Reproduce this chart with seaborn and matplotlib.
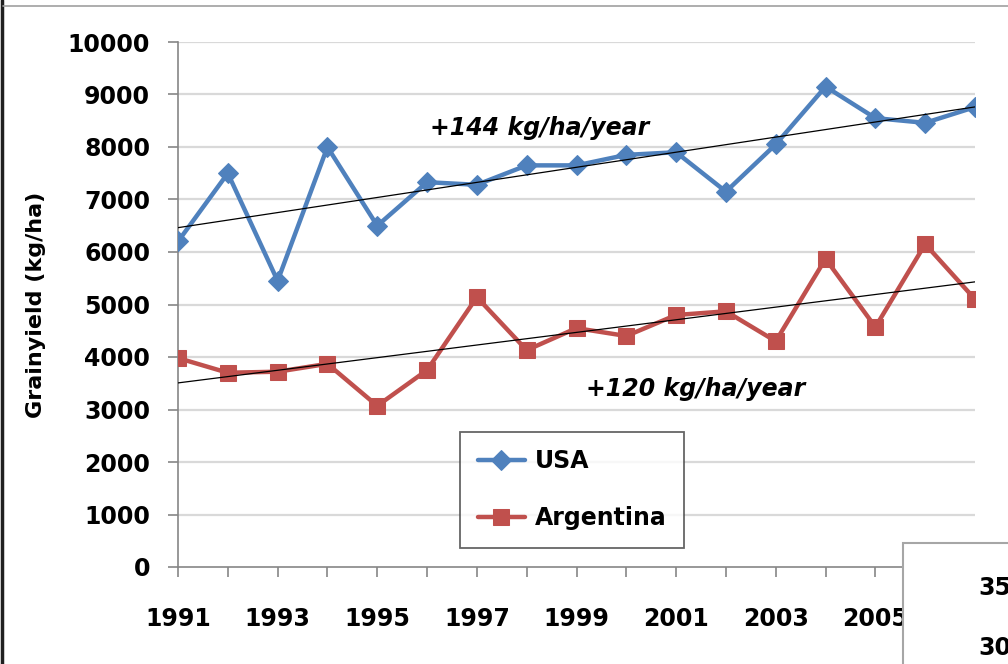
import numpy as np
import pandas as pd
import seaborn as sns
import matplotlib.pyplot as plt
from matplotlib.patches import Rectangle
from matplotlib.lines import Line2D

years = list(range(1991, 2008))
usa = [6200, 7500, 5450, 8000, 6500, 7330, 7280, 7650, 7650, 7850, 7900, 7150, 8050, 9150, 8550, 8460, 8760]
argentina = [3980, 3700, 3720, 3870, 3070, 3750, 5140, 4130, 4550, 4400, 4800, 4870, 4300, 5870, 4570, 6150, 5100]
y_ticks = list(range(0, 10001, 1000))
x_labels = [str(y) if y % 2 == 1 else '' for y in years]

blue = '#4F81BD'
red = '#C0504D'

sns.set_style('white')
plt.rcParams['font.family'] = ['DejaVu Sans']
plt.rcParams['font.weight'] = 'bold'
plt.rcParams['text.color'] = 'black'
plt.rcParams['axes.labelcolor'] = 'black'

fig = plt.figure(figsize=(10.08, 6.64), dpi=100)
ax = fig.add_axes([178 / 1008, 97 / 664, 797 / 1008, 525 / 664])

# gridlines first so the data sits on top
for v in y_ticks[1:]:
    ax.axhline(v, color='#D9D9D9', lw=1.6, zorder=0)

sns.lineplot(x=years, y=usa, ax=ax, color=blue, lw=3.2, marker='D', markersize=10,
             markeredgecolor=blue, label='USA', zorder=3)
sns.lineplot(x=years, y=argentina, ax=ax, color=red, lw=3.2, marker='s', markersize=12,
             markeredgecolor=red, label='Argentina', zorder=3)

# linear trends
yr = np.array(years)
for vals in (usa, argentina):
    k, b = np.polyfit(yr, vals, 1)
    ax.plot(yr, k * yr + b, color='black', lw=0.9, zorder=4)

ax.text(1996.05, 8360, '+144 kg/ha/year', fontsize=17, fontweight='bold', style='italic',
        va='center', ha='left', color='black')
ax.text(1999.2, 3390, '+120 kg/ha/year', fontsize=17, fontweight='bold', style='italic',
        va='center', ha='left', color='black')

ax.set_xlim(1991, 2006.95)
ax.set_ylim(0, 10000)
ax.set_xticks(years)
ax.set_xticklabels(x_labels)
ax.set_yticks(y_ticks)
ax.tick_params(axis='both', labelsize=17, colors='#868686', labelcolor='black')
ax.tick_params(axis='x', length=7, width=1.2, direction='out', pad=22, bottom=True)
ax.tick_params(axis='y', length=7, width=1.2, direction='out', pad=13, left=True)
for t in ax.get_xticklabels() + ax.get_yticklabels():
    t.set_fontweight('bold')

for s in ['top', 'right']:
    ax.spines[s].set_visible(False)
for s in ['left', 'bottom']:
    ax.spines[s].set_color('#868686')
    ax.spines[s].set_linewidth(1.2)

ax.set_ylabel('Grainyield (kg/ha)', fontsize=16, fontweight='bold', labelpad=16, color='black')
ax.set_xlabel('')

leg = ax.legend(loc='lower left', bbox_to_anchor=(0.354, 0.036), fontsize=17,
                frameon=True, fancybox=False, labelspacing=1.4, borderpad=0.75,
                handlelength=2.0, handletextpad=0.4, borderaxespad=0)
leg.get_frame().set_edgecolor('#404040')
leg.get_frame().set_linewidth(1.3)
for t in leg.get_texts():
    t.set_fontweight('bold')
    t.set_color('black')

# chart frame edges from the original slide
fig.add_artist(Line2D([1.5 / 1008, 1.5 / 1008], [0, 1], color='#202020', lw=2.5))
fig.add_artist(Line2D([3 / 1008, 1], [1 - 6 / 664, 1 - 6 / 664], color='#A0A0A0', lw=1.2))

# neighbouring chart peeking in at bottom right
fig.add_artist(Rectangle((903 / 1008, -0.01), 0.2, (664 - 543) / 664 + 0.01,
                         facecolor='white', edgecolor='#A6A6A6', lw=1.5, zorder=10))
fig.text(978 / 1008, 1 - 588 / 664, '35', fontsize=17, fontweight='bold', va='center',
         ha='left', zorder=11, color='black')
fig.text(978 / 1008, 1 - 648 / 664, '30', fontsize=17, fontweight='bold', va='center',
         ha='left', zorder=11, color='black')

fig.savefig('out.png', dpi=100)
